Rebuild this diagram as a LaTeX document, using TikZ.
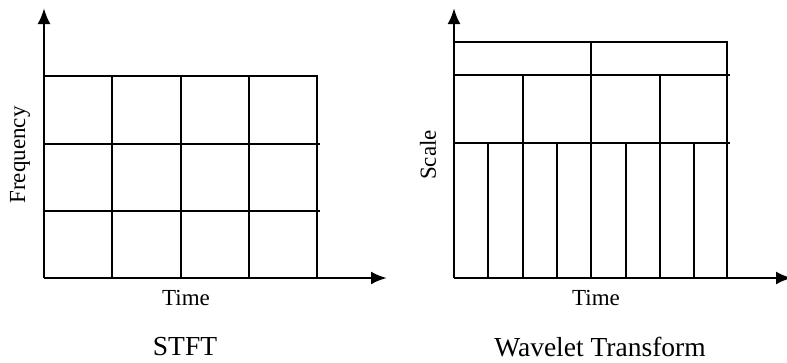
\documentclass[tikz,border=0pt]{standalone}
\usepackage{fontspec}
\setmainfont{Liberation Serif}
\usetikzlibrary{arrows.meta}
\tikzset{
  gridline/.style={line width=2.2pt, line cap=rect},
  axisline/.style={line width=2.6pt, -{Latex[length=16pt,width=13pt]}},
  lbl/.style={inner sep=0pt, font=\fontsize{23}{27}\selectfont},
  ttl/.style={inner sep=0pt, font=\fontsize{27.5}{31}\selectfont}
}
\begin{document}
\begin{tikzpicture}[x=1pt,y=-1pt]
\useasboundingbox (0,0) rectangle (787,362);
% ---------- STFT ----------
\coordinate (o1) at (44,278);
\coordinate (y1) at (44,8);
\coordinate (x1) at (387,278);
\draw[gridline] (44,76) -- (317,76) -- (317,278);
\draw[gridline] (44,144) -- (319,144);
\draw[gridline] (44,211) -- (319,211);
\foreach \x in {112,181,249} \draw[gridline] (\x,76) -- (\x,278);
\draw[axisline] (o1) -- (y1);
\draw[axisline] (o1) -- (x1);
\node[lbl, rotate=90] (f1) at (20,155) {Frequency};
\node[lbl] (t1) at (186,298) {Time};
\node[ttl] (s1) at (185,347) {STFT};
% ---------- Wavelet ----------
\coordinate (o2) at (454,278);
\coordinate (y2) at (454,8);
\coordinate (x2) at (792,278);
\draw[gridline] (454,42) -- (727,42) -- (727,278);
\draw[gridline] (454,75) -- (729,75);
\draw[gridline] (454,143) -- (729,143);
\draw[gridline] (591,42) -- (591,278);
\foreach \x in {523,660} \draw[gridline] (\x,75) -- (\x,278);
\foreach \x in {488,557,626,694} \draw[gridline] (\x,143) -- (\x,278);
\draw[axisline] (o2) -- (y2);
\draw[axisline] (o2) -- (x2);
\node[lbl, rotate=90] (f2) at (428,155) {Scale};
\node[lbl] (t2) at (596,298) {Time};
\node[ttl] (s2) at (600,347) {Wavelet Transform};
\end{tikzpicture}
\end{document}
